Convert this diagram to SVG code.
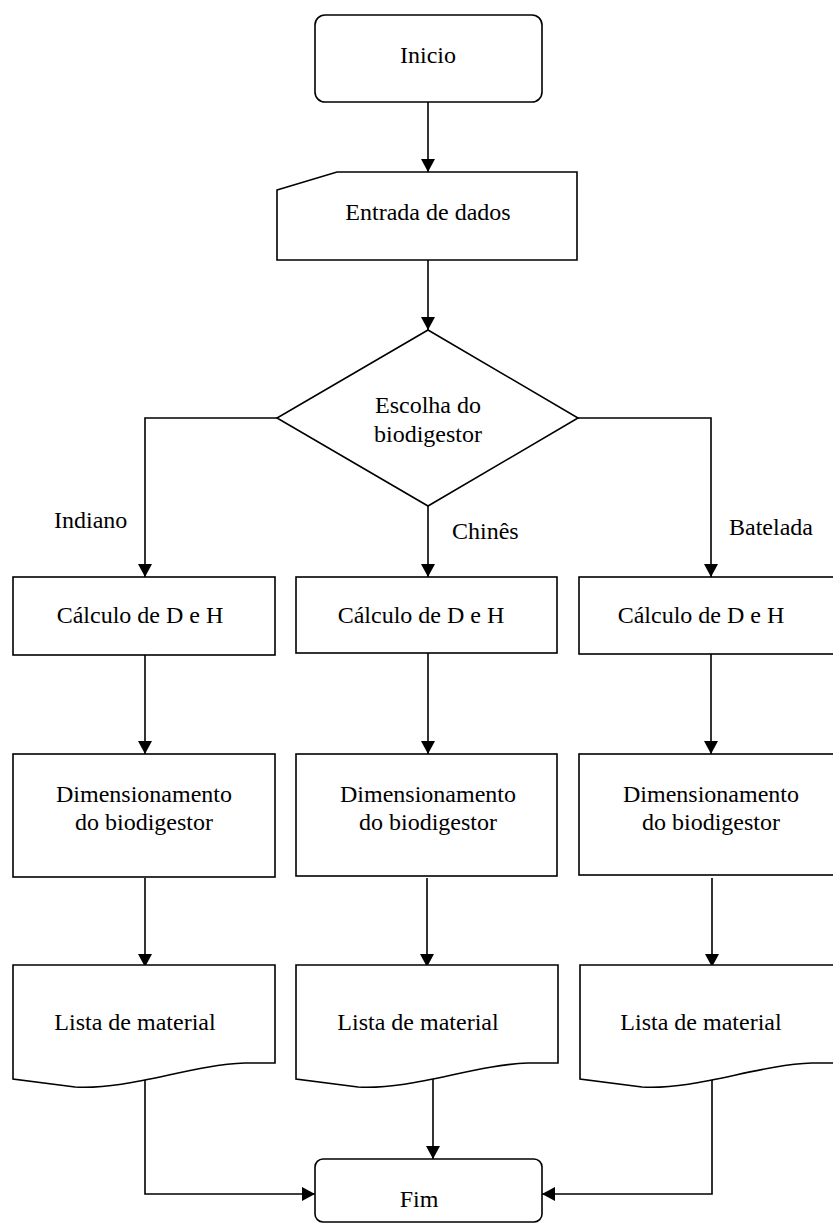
<svg xmlns="http://www.w3.org/2000/svg" width="833" height="1225" viewBox="0 0 833 1225">
<defs>
<style>
.s{fill:#fff;stroke:#000;stroke-width:1.6}
.c{fill:none;stroke:#000;stroke-width:1.6}
.t{font-family:'Liberation Serif','Times New Roman',Times,'DejaVu Serif',serif;font-size:24px;fill:#000}
.m{text-anchor:middle}
</style>
<marker id="ah" markerUnits="userSpaceOnUse" viewBox="0 0 13 14" refX="13" refY="7" markerWidth="13" markerHeight="14" orient="auto">
<path d="M0,0 L13,7 L0,14 z" fill="#000"/>
</marker>
</defs>
<rect width="833" height="1225" fill="#fff"/>
<g id="connectors">
<path class="c" d="M428,102 V172" marker-end="url(#ah)"/>
<path class="c" d="M428,260 V330" marker-end="url(#ah)"/>
<path class="c" d="M277,418 H145 V577" marker-end="url(#ah)"/>
<path class="c" d="M428,506 V577" marker-end="url(#ah)"/>
<path class="c" d="M578,418 H711 V577" marker-end="url(#ah)"/>
<path class="c" d="M145,655 V754" marker-end="url(#ah)"/>
<path class="c" d="M428,653 V754" marker-end="url(#ah)"/>
<path class="c" d="M711,654 V754" marker-end="url(#ah)"/>
<path class="c" d="M145,878 V967" marker-end="url(#ah)"/>
<path class="c" d="M427,878 V967" marker-end="url(#ah)"/>
<path class="c" d="M712,878 V967" marker-end="url(#ah)"/>
<path class="c" d="M145,1078 V1194 H315" marker-end="url(#ah)"/>
<path class="c" d="M433,1078 V1159" marker-end="url(#ah)"/>
<path class="c" d="M712,1078 V1194 H542" marker-end="url(#ah)"/>
</g>
<g font-family="Liberation Serif, Times New Roman, serif" font-size="24">
<g id="inicio">
<rect class="s" x="315" y="15" width="227" height="87" rx="10"/>
<text class="t m" x="428" y="63">Inicio</text>
</g>
<g id="entrada">
<path class="s" d="M277,190 L337,172 H577 V260 H277 Z"/>
<text class="t m" x="428" y="220">Entrada de dados</text>
</g>
<g id="escolha">
<path class="s" d="M428,330 L578,418 L428,506 L277,418 Z"/>
<text class="t m" x="428" y="413">Escolha do</text>
<text class="t m" x="428" y="442">biodigestor</text>
</g>
<g id="labels">
<text class="t" x="54" y="528">Indiano</text>
<text class="t" x="452" y="539">Chinês</text>
<text class="t" x="729" y="535">Batelada</text>
</g>
<g id="calc-indiano">
<rect class="s" x="13" y="577" width="262" height="78"/>
<text class="t m" x="140" y="623">Cálculo de D e H</text>
</g>
<g id="calc-chines">
<rect class="s" x="296" y="577" width="261" height="76"/>
<text class="t m" x="421" y="623">Cálculo de D e H</text>
</g>
<g id="calc-batelada">
<rect class="s" x="579" y="577" width="262" height="77"/>
<text class="t m" x="701" y="623">Cálculo de D e H</text>
</g>
<g id="dim-indiano">
<rect class="s" x="13" y="754" width="262" height="123"/>
<text class="t m" x="144" y="802">Dimensionamento</text>
<text class="t m" x="144" y="830">do biodigestor</text>
</g>
<g id="dim-chines">
<rect class="s" x="296" y="754" width="261" height="122"/>
<text class="t m" x="428" y="802">Dimensionamento</text>
<text class="t m" x="428" y="830">do biodigestor</text>
</g>
<g id="dim-batelada">
<rect class="s" x="579" y="754" width="262" height="121"/>
<text class="t m" x="711" y="802">Dimensionamento</text>
<text class="t m" x="711" y="830">do biodigestor</text>
</g>
<g id="lista-indiano">
<path class="s" d="M13,965 H275 V1063 H245 C190,1065 130,1090 75,1087 L13,1079 Z"/>
<text class="t m" x="135" y="1030">Lista de material</text>
</g>
<g id="lista-chines">
<path class="s" d="M296,965 H558 V1063 H528 C473,1065 413,1090 358,1087 L296,1079 Z"/>
<text class="t m" x="418" y="1030">Lista de material</text>
</g>
<g id="lista-batelada">
<path class="s" d="M580,965 H842 V1063 H812 C757,1065 697,1090 642,1087 L580,1079 Z"/>
<text class="t m" x="701" y="1030">Lista de material</text>
</g>
<g id="fim">
<rect class="s" x="315" y="1159" width="227" height="63" rx="8"/>
<text class="t m" x="419" y="1207">Fim</text>
</g>
</g>
</svg>
